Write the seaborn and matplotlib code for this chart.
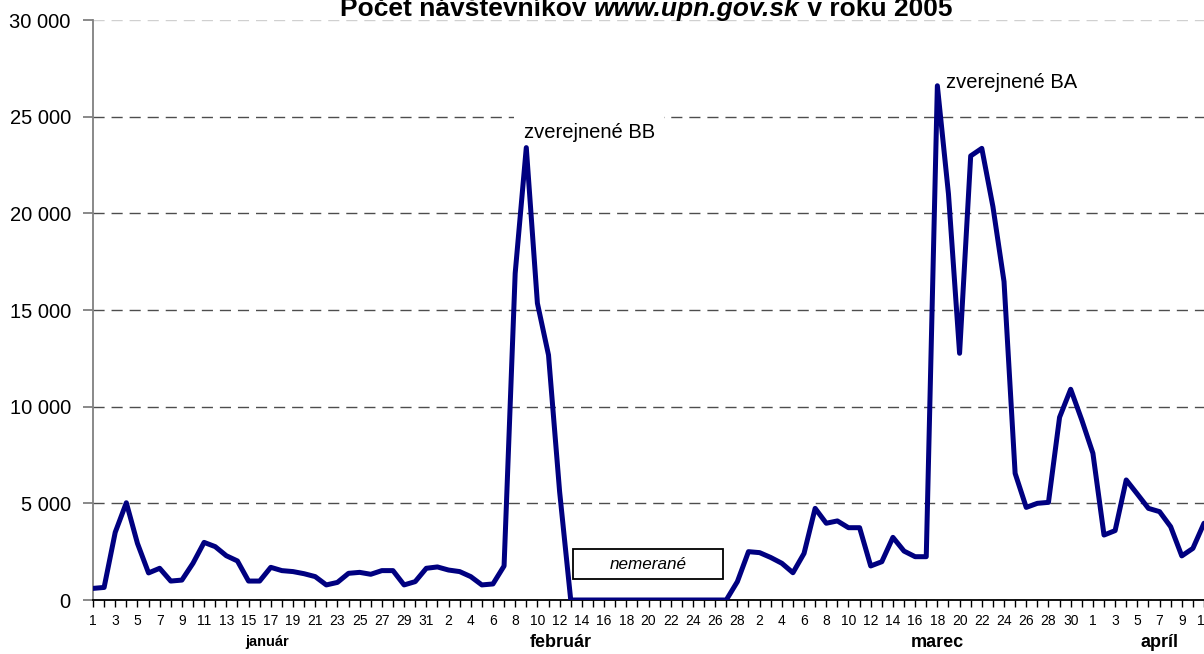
import matplotlib
matplotlib.use("Agg")
import matplotlib.pyplot as plt
import matplotlib.transforms as mtransforms
from matplotlib.patches import Rectangle
import seaborn as sns
import numpy as np
import pandas as pd

# daily visitor counts, 1 Jan - 11 Apr 2005
jan_values = [600, 650, 3500, 5030, 2930, 1400, 1640, 980, 1030, 1900, 2980, 2760, 2290, 2020, 980,
              980, 1690, 1520, 1470, 1360, 1210, 780, 910, 1380, 1430, 1330, 1520, 1520, 780, 950, 1640]
feb_values = [1710, 1550, 1470, 1210, 780, 830, 1760, 16900, 23400, 15350, 12670, 5600,
              0, 0, 0, 0, 0, 0, 0, 0, 0, 0, 0, 0, 0, 0, 0, 950]
mar_values = [2500, 2450, 2200, 1900, 1410, 2410, 4740, 3970, 4090, 3740, 3740, 1760, 1980, 3240, 2530,
              2240, 2240, 26600, 21000, 12760, 22970, 23360, 20350, 16470, 6550, 4790, 5000, 5050,
              9450, 10900, 9310]
apr_values = [7590, 3360, 3590, 6210, 5480, 4740, 4570, 3790, 2280, 2670, 3970]

month_names = ["január", "február", "marec", "apríl"]
month_lengths = [len(jan_values), len(feb_values), len(mar_values), len(apr_values)]
y_ticks = [0, 5000, 10000, 15000, 20000, 25000, 30000]

values = jan_values + feb_values + mar_values + apr_values
day_numbers = [d for n in month_lengths for d in range(1, n + 1)]
df = pd.DataFrame({"idx": np.arange(len(values)), "visitors": values})

sns.set_style("white")
plt.rcParams['font.family'] = ['Liberation Sans', 'DejaVu Sans']
plt.rcParams['text.color'] = 'black'
plt.rcParams['xtick.color'] = 'black'
plt.rcParams['ytick.color'] = 'black'

fig = plt.figure(figsize=(12.04, 6.54), dpi=100)
ax = fig.add_axes([93 / 1204, 54 / 654, 1 - 93 / 1204, 580 / 654])

sns.lineplot(data=df, x="idx", y="visitors", color="#000080", linewidth=3.6, ax=ax, zorder=3)

ax.set_xlim(0, len(values) - 1)
ax.set_ylim(0, 30000)
ax.set_xlabel("")
ax.set_ylabel("")

# grid
ax.set_axisbelow(True)
ax.set_yticks(y_ticks)
ax.set_yticklabels([f"{v:,}".replace(",", " ") for v in y_ticks])
ax.yaxis.grid(True, linestyle=(0, (8, 5)), color="#4d4d4d", linewidth=1)
ax.get_ygridlines()[-1].set_color("#d0d0d0")

# x ticks: every day, labels every second day
ax.set_xticks(np.arange(len(values)))
ax.set_xticklabels([str(d) if i % 2 == 0 else "" for i, d in enumerate(day_numbers)])

ax.tick_params(axis="y", length=7, width=1.3, color="#808080", labelcolor="black",
               pad=9, labelsize=14.5, left=True)
ax.tick_params(axis="x", length=5, width=1, color="black", labelcolor="black",
               pad=5, labelsize=10, bottom=True)

for s in ["top", "right"]:
    ax.spines[s].set_visible(False)
ax.spines["left"].set_color("#808080")
ax.spines["left"].set_linewidth(1.3)
ax.spines["bottom"].set_color("black")
ax.spines["bottom"].set_linewidth(1.3)

# month labels
trans = mtransforms.blended_transform_factory(ax.transData, ax.transAxes)
month_x = [15.7, 42.1, 76.0, 96.0]
month_sizes = [10.5, 13, 13, 13]
for name, mx, fs in zip(month_names, month_x, month_sizes):
    ax.text(mx, -0.073, name, transform=trans, ha="center", va="center",
            fontsize=fs, fontweight="bold", clip_on=False)

# annotations
ax.text(38.75, 23900, "zverejnené BB", fontsize=14.5, ha="left", va="baseline", zorder=1.5,
        bbox=dict(facecolor="white", edgecolor="none", pad=7))
ax.text(76.8, 26500, "zverejnené BA", fontsize=14.5, ha="left", va="baseline", zorder=1.5,
        bbox=dict(facecolor="white", edgecolor="none", pad=4))
ax.add_patch(Rectangle((43.2, 1070), 13.5, 1550, fill=False, edgecolor="black", linewidth=1.3, zorder=4))
ax.text(49.93, 1846, "nemerané", fontsize=12.3, style="italic", ha="center", va="center", zorder=4)

# title with mixed styles
parts = [("Počet návštevníkov ", "normal"), ("www.upn.gov.sk", "italic"), (" v roku 2005", "normal")]
title_y = 1 - 16 / 654
texts = [fig.text(0, title_y, p, fontsize=19, fontweight="bold", style=st, va="baseline")
         for p, st in parts]
renderer = fig.canvas.get_renderer()
widths = [t.get_window_extent(renderer).width for t in texts]
x0 = 646 - sum(widths) / 2
for t, w in zip(texts, widths):
    t.set_x(x0 / 1204)
    x0 += w

fig.savefig("out.png", dpi=100)
